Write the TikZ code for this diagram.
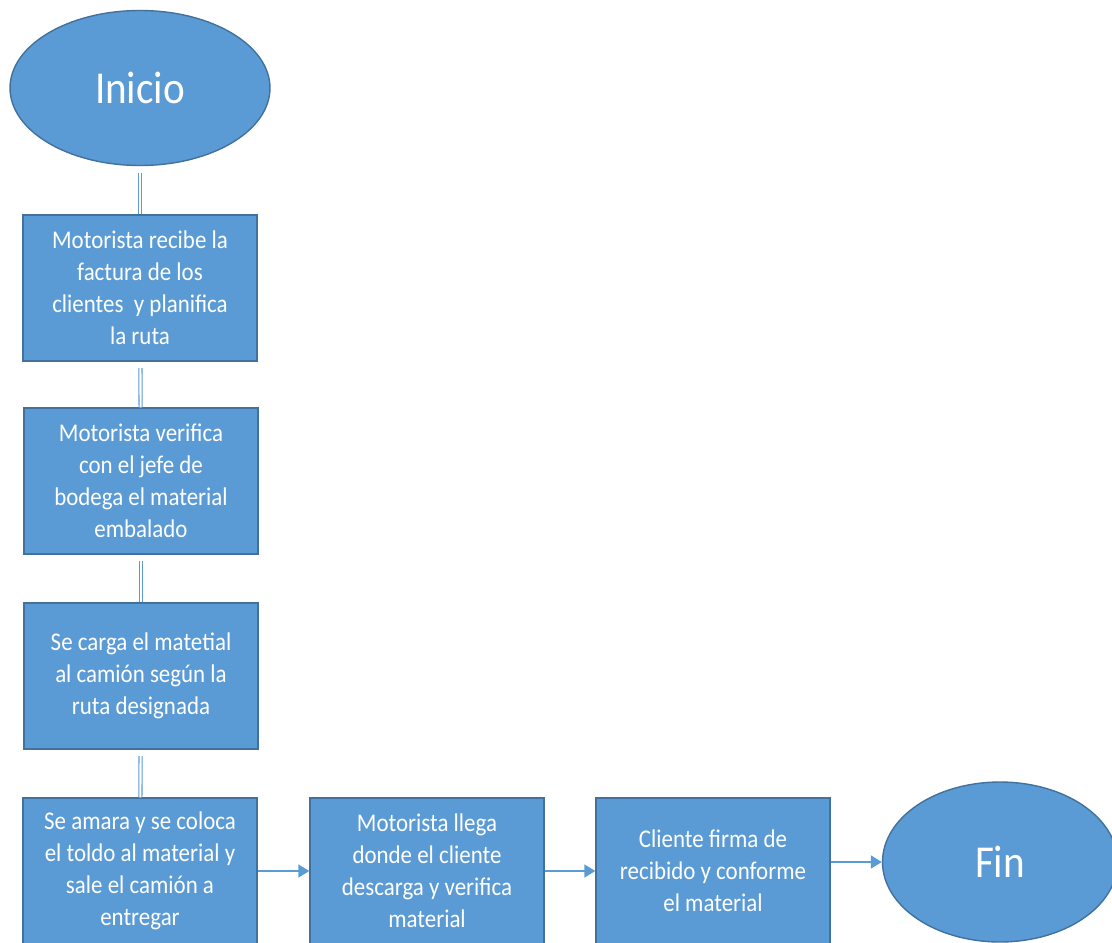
\documentclass[tikz,border=0pt]{standalone}
\usepackage{fontspec}
\setmainfont{Carlito}[FakeStretch=0.9]
\usetikzlibrary{shapes.geometric,arrows.meta}
\definecolor{boxblue}{HTML}{5B9BD5}
\definecolor{boxline}{HTML}{41719C}

\begin{document}
\begin{tikzpicture}[x=0.02cm,y=-0.02cm]

      \clip (0,0) rectangle (1112,943);

      % Nodes
      \begin{scope}[every node/.style={draw=boxline,fill=boxblue,text=white,thick}]
        \node[ellipse,minimum width=5.2cm,minimum height=3.1cm,font=\fontsize{26}{30}\selectfont] (inicio) at (140,88) {Inicio};

        \begin{scope}[every node/.append style={rectangle,minimum width=4.68cm,minimum height=2.92cm,align=center,inner sep=0pt,font=\fontsize{14.5}{18.2}\selectfont}]
          \node (recibe) at (140,288) {Motorista recibe la\\factura de los\\clientes~ y planifica\\la ruta};
          \node (verifica) at (141,481) {Motorista verifica\\con el jefe de\\bodega el material\\embalado};
          \node (carga) at (141,676) {Se carga el matetial\\al camión según la\\ruta designada};
          \node (amara) at (140,871) {Se amara y se coloca\\el toldo al material y\\sale el camión a\\entregar};
          \node (llega) at (427,871) {Motorista llega\\donde el cliente\\descarga y verifica\\material};
          \node (firma) at (713,871) {Cliente firma de\\recibido y conforme\\el material};
        \end{scope}

        \node[ellipse,minimum width=4.7cm,minimum height=3.2cm,font=\fontsize{26}{30}\selectfont] (fin) at (1000,862) {Fin};
      \end{scope}

      % Edges
      \begin{scope}[every edge/.style={draw=boxblue,double=white,line width=0.6pt,double distance=1.2pt,shorten <=0.13cm}]
        \path (inicio) edge (recibe);
        \path (recibe) edge (verifica);
        \path (verifica) edge (carga);
        \path (carga) edge (amara);
      \end{scope}

      \begin{scope}[every edge/.style={draw=boxblue,line width=0.8pt,-{Triangle[length=0.22cm,width=0.26cm]}}]
        \path (amara) edge (llega);
        \path (llega) edge (firma);
        \path (firma.east |- fin) edge (fin);
      \end{scope}

    \end{tikzpicture}
\end{document}
